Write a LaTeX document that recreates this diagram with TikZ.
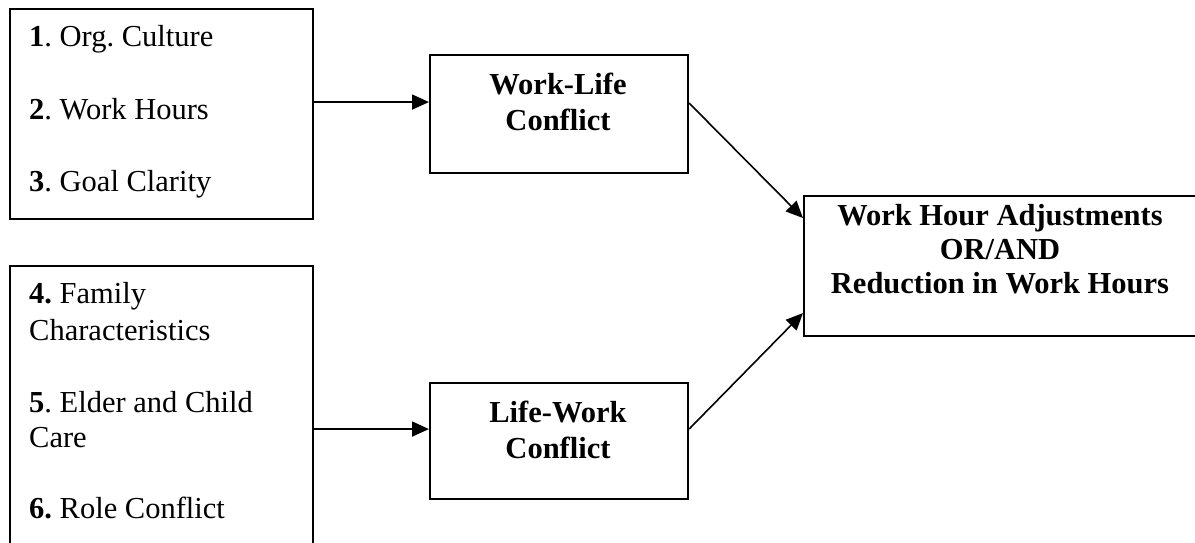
\documentclass[tikz,border=0pt]{standalone}
\usepackage{fontspec}
\setmainfont{Liberation Serif}
\usetikzlibrary{arrows.meta}
\frenchspacing
\begin{document}
\begin{tikzpicture}[x=1pt,y=-1pt,
  box/.style={draw, line width=2.1pt, inner sep=0pt, anchor=north west},
  txt/.style={font=\fontsize{30.5}{36}\selectfont, inner sep=0pt, anchor=base west},
  btxt/.style={font=\fontsize{30.5}{36}\selectfont\bfseries, inner sep=0pt, anchor=base},
  arr/.style={line width=1.6pt, -{Triangle[length=17pt,width=15pt]}}]
\useasboundingbox (0,0) rectangle (1195,543);
\clip (0,0) rectangle (1195,543);
% boxes
\node[box, minimum width=303pt, minimum height=210pt] (f1) at (9,8) {};
\node[box, minimum width=303pt, minimum height=300pt] (f2) at (9,265) {};
\node[box, minimum width=258pt, minimum height=118pt] (wl) at (429,54) {};
\node[box, minimum width=258pt, minimum height=116pt] (lw) at (429,382) {};
\node[box, minimum width=400pt, minimum height=140pt] (out) at (803,195) {};
% texts
\node[txt] (t1) at (29,47) {\textbf{1}. Org. Culture};
\node[txt] (t2) at (29,119) {\textbf{2}. Work Hours};
\node[txt] (t3) at (29,191) {\textbf{3}. Goal Clarity};
\node[txt] (t4) at (29,303) {\textbf{4.} Family};
\node[txt] (t5) at (29,340) {Characteristics};
\node[txt] (t6) at (29,412) {\textbf{5}. Elder and Child};
\node[txt] (t7) at (29,447) {Care};
\node[txt] (t8) at (29,518) {\textbf{6.} Role Conflict};
\node[btxt] (wlt1) at (558,95) {Work-Life};
\node[btxt] (wlt2) at (558,131) {Conflict};
\node[btxt] (lwt1) at (558,422) {Life-Work};
\node[btxt] (lwt2) at (558,458) {Conflict};
\node[btxt] (o1) at (1000,225) {Work Hour Adjustments};
\node[btxt] (o2) at (1000,259) {OR/AND};
\node[btxt] (o3) at (1000,293) {Reduction in Work Hours};
% connectors
\draw[arr] ([yshift=12pt]f1.east) -- ([yshift=12pt]wl.west);
\draw[arr] ([yshift=-13pt]f2.east) -- ([yshift=12pt]lw.west);
\draw[arr] ([yshift=11pt]wl.east) -- ([yshift=48pt]out.west);
\draw[arr] ([yshift=12pt]lw.east) -- ([yshift=-47pt]out.west);
\end{tikzpicture}
\end{document}
